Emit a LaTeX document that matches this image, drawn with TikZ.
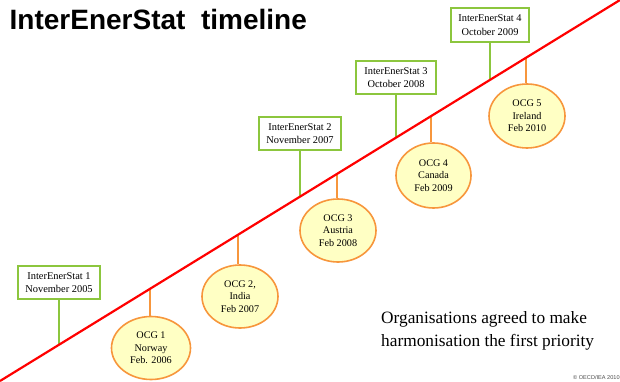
\documentclass[tikz,border=0pt]{standalone}
\usepackage{fontspec}
\setmainfont{Liberation Serif}
\newfontfamily\titlefont{Liberation Sans}
\usetikzlibrary{shapes.geometric}
\definecolor{boxgreen}{HTML}{8CC63E}
\definecolor{ocgorange}{HTML}{F7963C}
\definecolor{ocgfill}{HTML}{FFFFC4}
\tikzset{
  isbox/.style={draw=boxgreen, line width=1.8pt, fill=white, align=center, font=\fontsize{10.4}{13.4}\selectfont, inner sep=0pt},
  ocg/.style={draw=ocgorange, line width=1.6pt, fill=ocgfill, ellipse, align=center, font=\fontsize{10.2}{12.6}\selectfont, inner sep=0pt},
  gstem/.style={draw=boxgreen, line width=1.7pt},
  ostem/.style={draw=ocgorange, line width=1.7pt},
  timeline/.style={draw=red, line width=2.2pt},
  notetext/.style={anchor=base west, inner sep=0pt, font=\fontsize{17.3}{20}\selectfont}
}
\begin{document}
\begin{tikzpicture}[x=1pt,y=-1pt]
\useasboundingbox (0,0) rectangle (620,382);
% line endpoints
\coordinate (ls) at (0,381);
\coordinate (le) at (620,0);
% points on the line
\coordinate (p1) at (59,344.7);
\coordinate (p2) at (300,196.6);
\coordinate (p3) at (396,137.7);
\coordinate (p4) at (490,80);
\coordinate (q1) at (150,288.8);
\coordinate (q2) at (238,234.7);
\coordinate (q3) at (337,173.9);
\coordinate (q4) at (431,116.2);
\coordinate (q5) at (526,57.8);
\node[isbox, minimum width=82pt, minimum height=33pt] (b1) at (59,282.5) {InterEnerStat 1\\November 2005};
\node[isbox, minimum width=82pt, minimum height=33pt] (b2) at (300,133.5) {InterEnerStat 2\\November 2007};
\node[isbox, minimum width=80pt, minimum height=33pt] (b3) at (396,77.5) {InterEnerStat 3\\October 2008};
\node[isbox, minimum width=78pt, minimum height=34pt] (b4) at (490,25) {InterEnerStat 4\\October 2009};
\node[ocg, minimum width=79pt, minimum height=63pt] (o1) at (151,348) {OCG 1\\Norway\\Feb. 2006};
\node[ocg, minimum width=76pt, minimum height=63pt] (o2) at (240,296.5) {OCG 2,\\India\\Feb 2007};
\node[ocg, minimum width=76pt, minimum height=63pt] (o3) at (338,230.5) {OCG 3\\Austria\\Feb 2008};
\node[ocg, minimum width=75pt, minimum height=65pt] (o4) at (433.5,175.5) {OCG 4\\Canada\\Feb 2009};
\node[ocg, minimum width=76pt, minimum height=64pt] (o5) at (527,116) {OCG 5\\Ireland\\Feb 2010};
\draw[gstem] (b1.south) -- (p1);
\draw[gstem] (b2.south) -- (p2);
\draw[gstem] (b3.south) -- (p3);
\draw[gstem] (b4.south) -- (p4);
\draw[ostem] (q1) -- (o1.north -| q1);
\draw[ostem] (q2) -- (o2.north -| q2);
\draw[ostem] (q3) -- (o3.north -| q3);
\draw[ostem] (q4) -- (o4.north -| q4);
\draw[ostem] (q5) -- (o5.north -| q5);
\draw[timeline] (ls) -- (le);
\node[anchor=base west, inner sep=0pt, font=\titlefont\bfseries\fontsize{28}{32}\selectfont] (title) at (9.5,30) {InterEnerStat\ \ timeline};
\node[notetext] (note1) at (381,323) {Organisations agreed to make};
\node[notetext] (note2) at (381,346.5) {harmonisation the first priority};
\node[anchor=west, inner sep=0pt, font=\titlefont\fontsize{5.6}{6}\selectfont, text=black!70] (copy) at (573,377.5) {\textcopyright\ OECD/IEA 2010};
\end{tikzpicture}
\end{document}
